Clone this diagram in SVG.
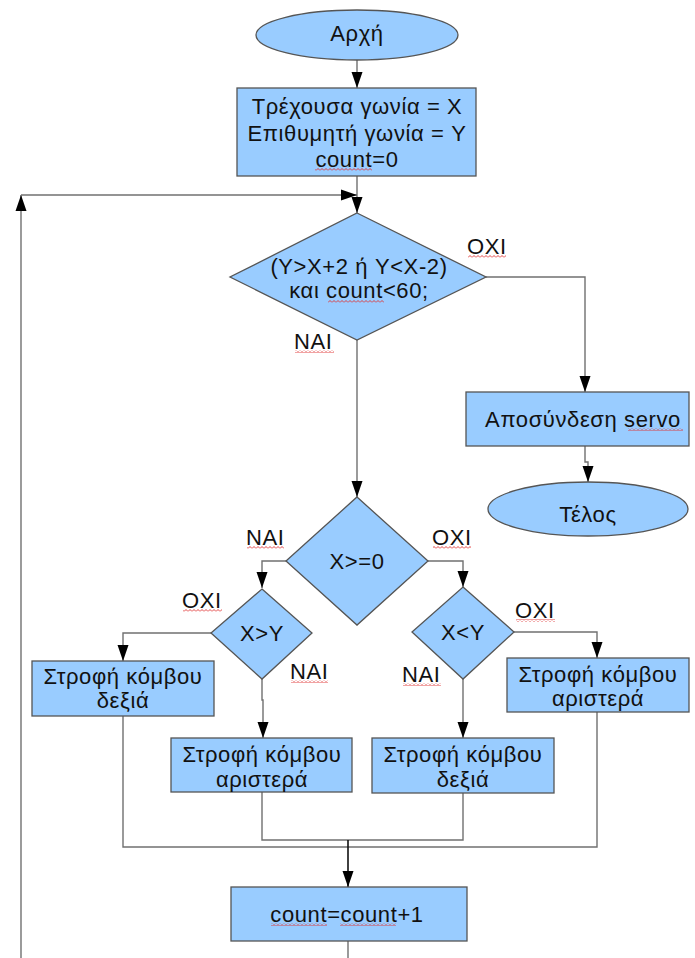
<svg xmlns="http://www.w3.org/2000/svg" width="695" height="958" viewBox="0 0 695 958">
<style>
.sh{fill:#99ccff;stroke:#555555;stroke-width:1.3}
.ln{fill:none;stroke:#707070;stroke-width:1.4}
.bl{fill:none;stroke:#111111;stroke-width:1.6}
text{font-family:"Liberation Sans",Arial,sans-serif;font-size:22px;letter-spacing:0.6px;fill:#111111;text-anchor:middle}
.lb{text-anchor:start}
.sq{fill:url(#wave)}
</style>
<defs>
<marker id="arr" markerUnits="userSpaceOnUse" markerWidth="16" markerHeight="12" refX="16" refY="6" orient="auto">
<path d="M0,0.5 L16,6 L0,11.5 z" fill="#000"/>
</marker>
<pattern id="wave" width="4" height="3" patternUnits="userSpaceOnUse">
<path d="M0,2.5 L2,0.5 L4,2.5" fill="none" stroke="#e03030" stroke-width="0.9"/>
</pattern>
</defs>
<g id="connectors">
<path class="ln" d="M357,60 V88" marker-end="url(#arr)"/>
<path class="ln" d="M357,176 V213" marker-end="url(#arr)"/>
<path class="ln" d="M21,958 V195" marker-end="url(#arr)"/>
<path class="ln" d="M21,195 H357" marker-end="url(#arr)"/>
<path class="ln" d="M486,277 H585 V392" marker-end="url(#arr)"/>
<path class="ln" d="M585,446 V462 H588 V482" marker-end="url(#arr)"/>
<path class="ln" d="M357,340 V497" marker-end="url(#arr)"/>
<path class="ln" d="M286,561 H262 V588" marker-end="url(#arr)"/>
<path class="ln" d="M428,561 H463 V587" marker-end="url(#arr)"/>
<path class="ln" d="M211,633 H123 V661" marker-end="url(#arr)"/>
<path class="ln" d="M262,679 V700 H263 V738" marker-end="url(#arr)"/>
<path class="ln" d="M514,632 H597 V658" marker-end="url(#arr)"/>
<path class="ln" d="M463,679 V738" marker-end="url(#arr)"/>
<path class="ln" d="M123,716 V847 H597 V712"/>
<path class="ln" d="M262,792 V840 H463 V793"/>
<path class="bl" d="M348,840 V887" marker-end="url(#arr)"/>
<path class="ln" d="M348,941 V958"/>
</g>
<g id="start">
<ellipse class="sh" cx="357" cy="35" rx="101" ry="25"/>
<text x="357" y="41">Αρχή</text>
</g>
<g id="init">
<rect class="sh" x="237" y="88" width="239" height="88"/>
<text x="357" y="114">Τρέχουσα γωνία = X</text>
<text x="357" y="141">Επιθυμητή γωνία = Y</text>
<text x="357" y="167">count=0</text>
<rect class="sq" x="315" y="168" width="57" height="3"/>
</g>
<g id="cond1">
<polygon class="sh" points="357,213 486,277 357,340 230,277"/>
<text x="359" y="274">(Y&gt;X+2 ή Y&lt;X-2)</text>
<text x="359" y="298">και count&lt;60;</text>
<rect class="sq" x="328" y="300" width="56" height="3"/>
</g>
<g id="lbl-oxi1"><text class="lb" x="467" y="254">ΟΧΙ</text><rect class="sq" x="468" y="255" width="38" height="3"/></g>
<g id="lbl-nai1"><text class="lb" x="294" y="349">ΝΑΙ</text><rect class="sq" x="295" y="350" width="39" height="3"/></g>
<g id="servo">
<rect class="sh" x="466" y="392" width="223" height="54"/>
<text x="583" y="427">Αποσύνδεση servo</text>
<rect class="sq" x="628" y="428" width="55" height="3"/>
</g>
<g id="end">
<ellipse class="sh" cx="588" cy="509" rx="100" ry="27"/>
<text x="588" y="522">Τέλος</text>
</g>
<g id="cond2">
<polygon class="sh" points="357,497 428,561 357,625 286,561"/>
<text x="357" y="569">X&gt;=0</text>
</g>
<g id="lbl-nai2"><text class="lb" x="246" y="545">ΝΑΙ</text><rect class="sq" x="247" y="546" width="37" height="3"/></g>
<g id="lbl-oxi2"><text class="lb" x="432" y="545">ΟΧΙ</text><rect class="sq" x="433" y="546" width="38" height="3"/></g>
<g id="cond3">
<polygon class="sh" points="262,589 312,633 262,679 211,633"/>
<text x="262" y="641">X&gt;Y</text>
</g>
<g id="lbl-oxi3"><text class="lb" x="182" y="608">ΟΧΙ</text><rect class="sq" x="183" y="609" width="39" height="3"/></g>
<g id="lbl-nai3"><text class="lb" x="290" y="679">ΝΑΙ</text><rect class="sq" x="291" y="680" width="37" height="3"/></g>
<g id="cond4">
<polygon class="sh" points="463,587 514,632 463,679 412,632"/>
<text x="463" y="640">X&lt;Y</text>
</g>
<g id="lbl-oxi4"><text class="lb" x="515" y="618">ΟΧΙ</text><rect class="sq" x="516" y="619" width="39" height="3"/></g>
<g id="lbl-nai4"><text class="lb" x="402" y="682">ΝΑΙ</text><rect class="sq" x="403" y="683" width="38" height="3"/></g>
<g id="right1">
<rect class="sh" x="32" y="661" width="182" height="55"/>
<text x="123" y="684">Στροφή κόμβου</text>
<text x="123" y="708">δεξιά</text>
</g>
<g id="left1">
<rect class="sh" x="171" y="738" width="181" height="54"/>
<text x="262" y="762">Στροφή κόμβου</text>
<text x="262" y="787">αριστερά</text>
</g>
<g id="right2">
<rect class="sh" x="372" y="738" width="182" height="55"/>
<text x="463" y="762">Στροφή κόμβου</text>
<text x="463" y="787">δεξιά</text>
</g>
<g id="left2">
<rect class="sh" x="507" y="658" width="182" height="54"/>
<text x="598" y="682">Στροφή κόμβου</text>
<text x="598" y="706">αριστερά</text>
</g>
<g id="inc">
<rect class="sh" x="231" y="887" width="236" height="54"/>
<text x="347" y="922">count=count+1</text>
<rect class="sq" x="271" y="923" width="56" height="3"/>
<rect class="sq" x="340" y="923" width="56" height="3"/>
</g>
</svg>
